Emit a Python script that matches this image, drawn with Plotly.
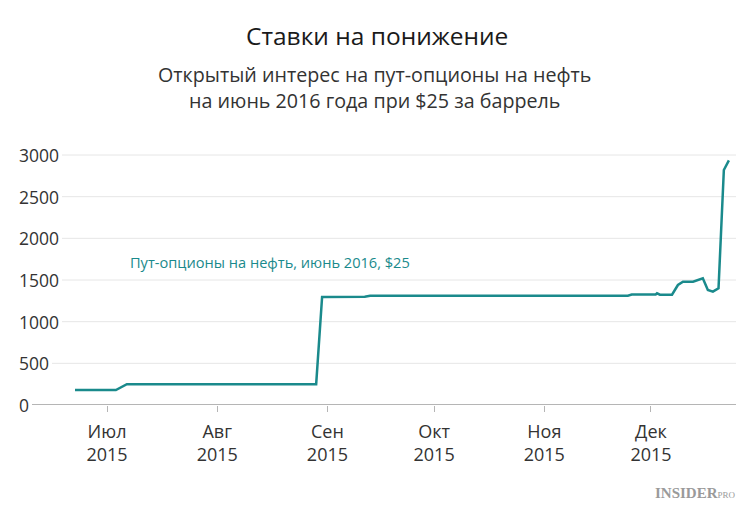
import plotly.graph_objects as go

# ---- data ----
dates = [
    "2015-06-22", "2015-07-03 12:00", "2015-07-06 14:00", "2015-08-28 20:00",
    "2015-08-30 12:00", "2015-09-11 12:00", "2015-09-13", "2015-11-24 12:00",
    "2015-11-25 14:00", "2015-12-02 08:00", "2015-12-02 17:00", "2015-12-03 12:00",
    "2015-12-06 22:00", "2015-12-08 14:00", "2015-12-10", "2015-12-12 20:00",
    "2015-12-15 14:00", "2015-12-17", "2015-12-18 10:00", "2015-12-20",
    "2015-12-21 12:00", "2015-12-22 22:00",
]
open_interest = [
    180, 180, 250, 250,
    1296, 1298, 1312, 1312,
    1326, 1326, 1340, 1324,
    1324, 1440, 1480, 1480,
    1520, 1380, 1360, 1400,
    2820, 2935,
]

y_ticks = [0, 500, 1000, 1500, 2000, 2500, 3000]
y_tick_labels = ["0", "500", "1000", "1500", "2000", "2500", "3000"]
x_ticks = ["2015-07-01", "2015-08-01", "2015-09-01", "2015-10-01", "2015-11-01", "2015-12-01"]
x_tick_labels = ["Июл<br>2015", "Авг<br>2015", "Сен<br>2015", "Окт<br>2015", "Ноя<br>2015", "Дек<br>2015"]

title = "Ставки на понижение"
subtitle = "Открытый интерес на пут-опционы на нефть<br>на июнь 2016 года при $25 за баррель"
series_name = "Пут-опционы на нефть, июнь 2016, $25"

# ---- style ----
W, H = 750, 511
ML, MR, MT, MB = 17, 14, 130, 106
FONT = "Open Sans"
TEAL = "#1a8a8c"
TXT = "#333333"
plot_w = W - ML - MR
plot_h = H - MT - MB


def px_x(px):
    return (px - ML) / plot_w


def px_y(py):
    return (H - MB - py) / plot_h


fig = go.Figure()
fig.add_trace(go.Scatter(
    x=dates, y=open_interest, mode="lines",
    line=dict(color=TEAL, width=2.5), hoverinfo="x+y", showlegend=False,
))

# horizontal grid lines starting just after each label, and left-aligned labels
shapes = []
annotations = []
digit_w = 10.0
LABEL_X = 17
for v, s in zip(y_ticks, y_tick_labels):
    x0_px = LABEL_X + len(s) * digit_w + 5
    shapes.append(dict(
        type="line", xref="paper", yref="y",
        x0=px_x(x0_px), x1=1, y0=v, y1=v,
        line=dict(color="#b5b5b5" if v == 0 else "#e6e6e6", width=2 if v == 0 else 1),
        layer="below",
    ))
    annotations.append(dict(
        text=s, xref="paper", yref="y", x=px_x(LABEL_X), y=v,
        xanchor="left", yanchor="middle", showarrow=False,
        font=dict(size=17.5, color=TXT, family=FONT),
    ))

annotations += [
    dict(text=title, xref="paper", yref="paper", x=px_x(377), y=px_y(35),
         xanchor="center", yanchor="middle", showarrow=False,
         font=dict(size=24.5, color="#1a1a1a", family=FONT)),
    dict(text=subtitle, xref="paper", yref="paper", x=px_x(374), y=px_y(88),
         xanchor="center", yanchor="middle", showarrow=False,
         font=dict(size=19.7, color=TXT, family=FONT)),
    dict(text=series_name, x="2015-07-07", y=1720, xref="x", yref="y",
         xanchor="left", yanchor="middle", showarrow=False,
         font=dict(size=14.6, color=TEAL, family=FONT)),
    dict(text="<b>INSIDER</b><span style='font-size:9px'>PRO</span>",
         xref="paper", yref="paper", x=px_x(738), y=px_y(493),
         xanchor="right", yanchor="middle", showarrow=False,
         font=dict(size=15, color="#9a9a9a", family="Liberation Serif")),
]

fig.update_layout(
    width=W, height=H,
    margin=dict(l=ML, r=MR, t=MT, b=MB),
    paper_bgcolor="white", plot_bgcolor="white",
    font=dict(family=FONT, color=TXT, size=18),
    shapes=shapes,
    annotations=annotations,
    xaxis=dict(
        type="date",
        range=["2015-06-05 16:30", "2015-12-24 22:00"],
        tickvals=x_ticks, ticktext=x_tick_labels,
        ticks="outside", ticklen=6, tickcolor="#b5b5b5", tickwidth=1,
        ticklabelstandoff=4,
        showgrid=False, showline=False, zeroline=False,
        tickfont=dict(size=18, color=TXT, family=FONT),
        fixedrange=True,
    ),
    yaxis=dict(
        range=[0, 3300],
        showticklabels=False, ticks="",
        showgrid=False, showline=False, zeroline=False,
        fixedrange=True,
    ),
)

fig.write_html("out.html", config={"displayModeBar": False},
               post_script="document.body.style.margin='0';")
